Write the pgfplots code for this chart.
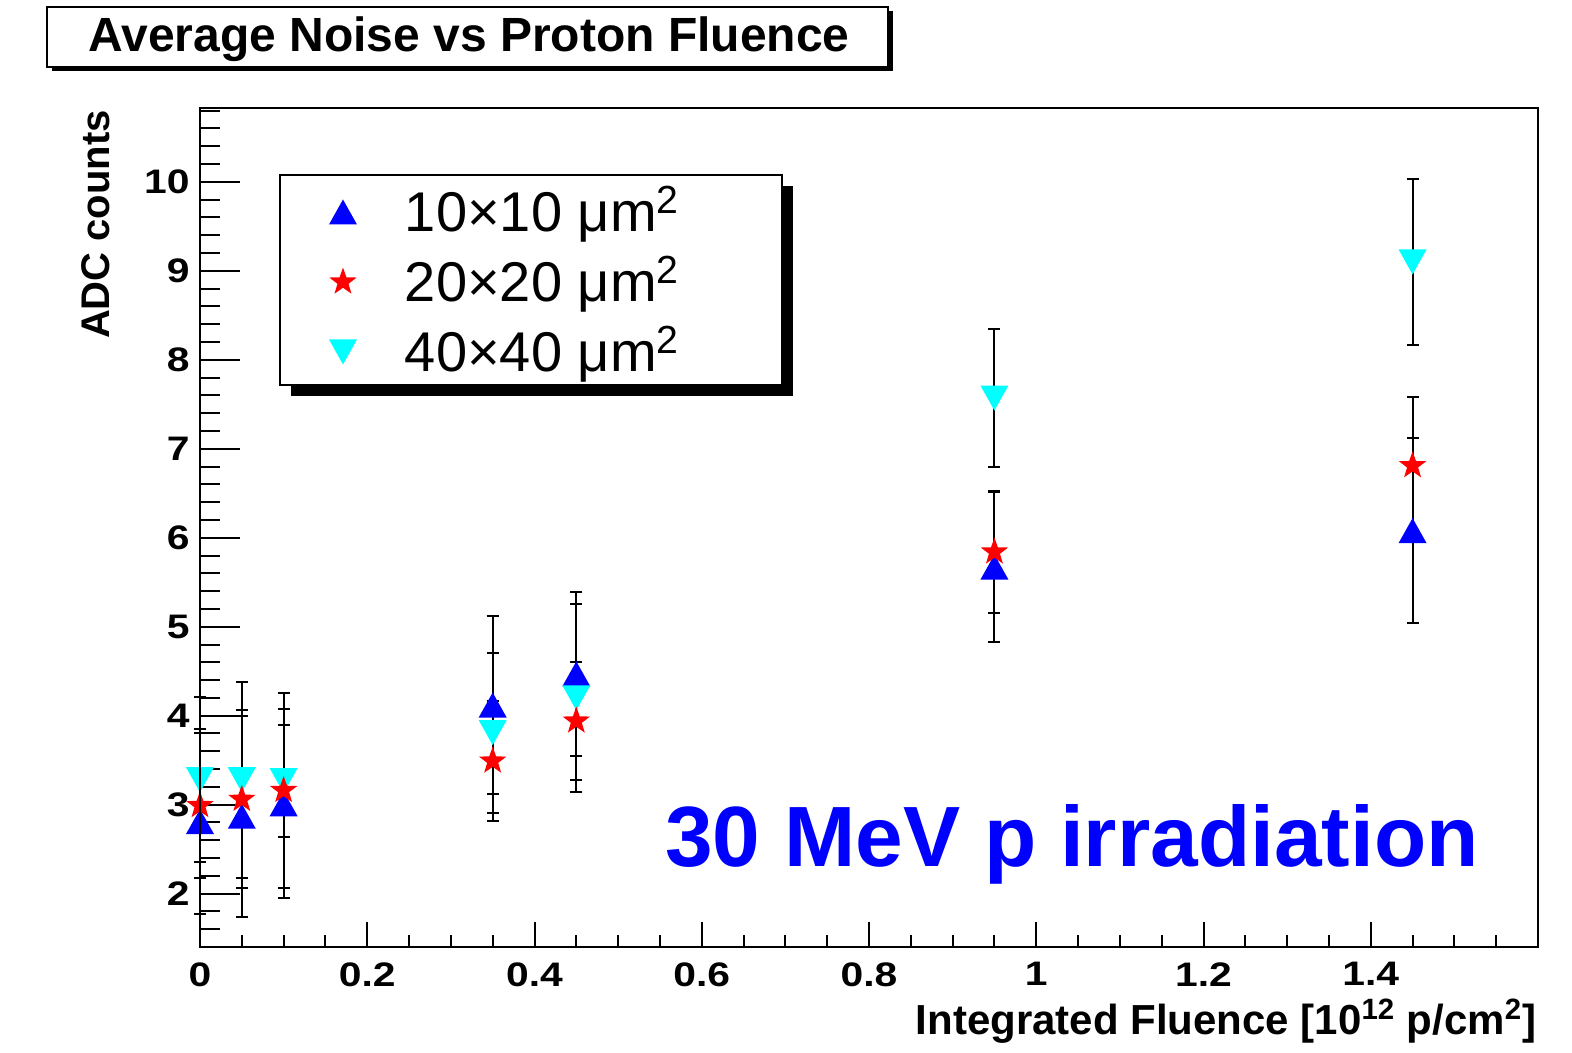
\documentclass[border=0pt]{standalone}
\usepackage{pgfplots}
\pgfplotsset{compat=1.18}
\usepackage{pgfplotstable}
\usepackage{fontspec}
\setmainfont{Liberation Sans}
\newfontfamily\tickfont[FakeStretch=1.2]{Liberation Sans Bold}
\definecolor{rootcyan}{RGB}{0,255,255}
\definecolor{rootblue}{RGB}{0,0,255}
\definecolor{rootred}{RGB}{255,0,0}

\pgfdeclareplotmark{tup}{%
  \pgfpathmoveto{\pgfqpoint{0pt}{6.25pt}}%
  \pgfpathlineto{\pgfqpoint{-7pt}{-6.25pt}}%
  \pgfpathlineto{\pgfqpoint{7pt}{-6.25pt}}%
  \pgfpathclose\pgfusepathqfill}
\pgfdeclareplotmark{tdown}{%
  \pgfpathmoveto{\pgfqpoint{0pt}{-6.25pt}}%
  \pgfpathlineto{\pgfqpoint{-7pt}{6.25pt}}%
  \pgfpathlineto{\pgfqpoint{7pt}{6.25pt}}%
  \pgfpathclose\pgfusepathqfill}
\pgfdeclareplotmark{fstar}{%
  \pgfpathmoveto{\pgfqpoint{0pt}{7.2pt}}%
  \pgfpathlineto{\pgfqpoint{1.705pt}{2.346pt}}%
  \pgfpathlineto{\pgfqpoint{6.848pt}{2.225pt}}%
  \pgfpathlineto{\pgfqpoint{2.758pt}{-0.896pt}}%
  \pgfpathlineto{\pgfqpoint{4.232pt}{-5.825pt}}%
  \pgfpathlineto{\pgfqpoint{0pt}{-2.9pt}}%
  \pgfpathlineto{\pgfqpoint{-4.232pt}{-5.825pt}}%
  \pgfpathlineto{\pgfqpoint{-2.758pt}{-0.896pt}}%
  \pgfpathlineto{\pgfqpoint{-6.848pt}{2.225pt}}%
  \pgfpathlineto{\pgfqpoint{-1.705pt}{2.346pt}}%
  \pgfpathclose\pgfusepathqfill}

\pgfplotstableread{
x y e
0 2.81 1.04
0.05 2.87 1.13
0.1 3.01 1.06
0.35 4.12 1.0
0.45 4.47 0.92
0.95 5.67 0.84
1.45 6.08 1.04
}\tenten
\pgfplotstableread{
x y e
0 2.99 0.81
0.05 3.06 1.0
0.1 3.16 1.1
0.35 3.49 0.67
0.45 3.94 0.66
0.95 5.84 0.69
1.45 6.81 0.77
}\twenty
\pgfplotstableread{
x y e
0 3.28 0.93
0.05 3.28 1.1
0.1 3.27 0.63
0.35 3.81 0.9
0.45 4.20 1.06
0.95 7.57 0.78
1.45 9.10 0.93
}\forty

\pgfplotsset{rootaxis/.style={
  at={(100pt,-473.5pt)}, anchor=south west,
  width=669pt, height=419.5pt, scale only axis,
  xmin=0, xmax=1.6, ymin=1.4, ymax=10.83,
  axis line style={line width=1pt},
  tick align=inside,
  every tick/.style={black, line width=1pt},
  /pgf/number format/assume math mode=true,
  ticklabel style={font=\tickfont\fontsize{17}{19}\selectfont},
}}

\pgfplotsset{errstyle/.style={
  only marks, forget plot,
  error bars/y dir=both, error bars/y explicit,
  error bars/error bar style={black, line width=1pt},
  error bars/error mark options={black, mark size=3pt, line width=1pt, rotate=90}
}}

\begin{document}
\begin{tikzpicture}
\useasboundingbox (0,0) rectangle (786pt,-526.5pt);
% title box
\fill[black] (26pt,-5.5pt) rectangle (446.5pt,-35.5pt);
\draw[fill=white, line width=0.8pt] (23.5pt,-3.5pt) rectangle (444pt,-33.5pt);
\node[anchor=base, inner sep=0pt, font=\bfseries\fontsize{24}{28}\selectfont] at (234.5pt,-26pt) {Average Noise vs Proton Fluence};
% legend box
\fill[black] (145.5pt,-93pt) rectangle (396.5pt,-198pt);
\draw[fill=white, line width=0.8pt] (140pt,-87.5pt) rectangle (391pt,-192.5pt);

\begin{axis}[rootaxis,
  xtick=\empty,
  ytick={2,3,4,5,6,7,8,9,10},
  minor ytick={1.6,1.8,2.2,2.4,2.6,2.8,3.2,3.4,3.6,3.8,4.2,4.4,4.6,4.8,5.2,5.4,5.6,5.8,6.2,6.4,6.6,6.8,7.2,7.4,7.6,7.8,8.2,8.4,8.6,8.8,9.2,9.4,9.6,9.8,10.2,10.4,10.6,10.8},
  ytick pos=left,
  major tick length=20pt, minor tick length=10pt,
  yticklabel style={anchor=east, inner sep=0pt, xshift=-5pt},
  ylabel={\bfseries ADC counts},
  ylabel style={font=\fontsize{20}{24}\selectfont, at={(axis description cs:-0.0674,0.998)}, anchor=base east, inner sep=0pt},
  clip=false,
  legend style={at={(0.0964,0.8999)}, anchor=north west, draw=none, fill=none,
    inner sep=0pt, outer sep=0pt, row sep=15pt,
    font=\fontsize{28}{30}\selectfont,
    nodes={inner sep=0pt, text height=20pt, text depth=0pt},
    /tikz/every odd column/.append style={column sep=24pt}},
  legend cell align=left,
  legend image code/.code={\draw[#1] plot coordinates {(7pt,0pt)};},
]
\addlegendimage{mark=tup, color=rootblue}
\addlegendentry{10×10 μm\textsuperscript{2}}
\addlegendimage{mark=fstar, color=rootred}
\addlegendentry{20×20 μm\textsuperscript{2}}
\addlegendimage{mark=tdown, color=rootcyan}
\addlegendentry{40×40 μm\textsuperscript{2}}

\addplot[mark=tup, color=rootblue, errstyle] table[x=x, y=y, y error=e] {\tenten};
\addplot[mark=tdown, color=rootcyan, errstyle] table[x=x, y=y, y error=e] {\forty};
\addplot[mark=fstar, color=rootred, errstyle] table[x=x, y=y, y error=e] {\twenty};

\node[anchor=base west, inner sep=0pt, text=rootblue, font=\bfseries\fontsize{42.8}{48}\selectfont] at (rel axis cs:0.3475,0.0965) {30 MeV p irradiation};
\end{axis}

\begin{axis}[rootaxis,
  ytick=\empty,
  xtick={0,0.2,0.4,0.6,0.8,1,1.2,1.4},
  minor xtick={0.05,0.1,0.15,0.25,0.3,0.35,0.45,0.5,0.55,0.65,0.7,0.75,0.85,0.9,0.95,1.05,1.1,1.15,1.25,1.3,1.35,1.45,1.5,1.55},
  xtick pos=bottom,
  major tick length=12.5pt, minor tick length=6.25pt,
  xticklabel style={anchor=north, inner sep=0pt, yshift=-7.5pt},
  xlabel={\bfseries Integrated Fluence [10\textsuperscript{12} p/cm\textsuperscript{2}]},
  xlabel style={font=\fontsize{21}{24}\selectfont, at={(axis description cs:0.999,-0.1045)}, anchor=base east, inner sep=0pt},
]
\end{axis}
\end{tikzpicture}
\end{document}
